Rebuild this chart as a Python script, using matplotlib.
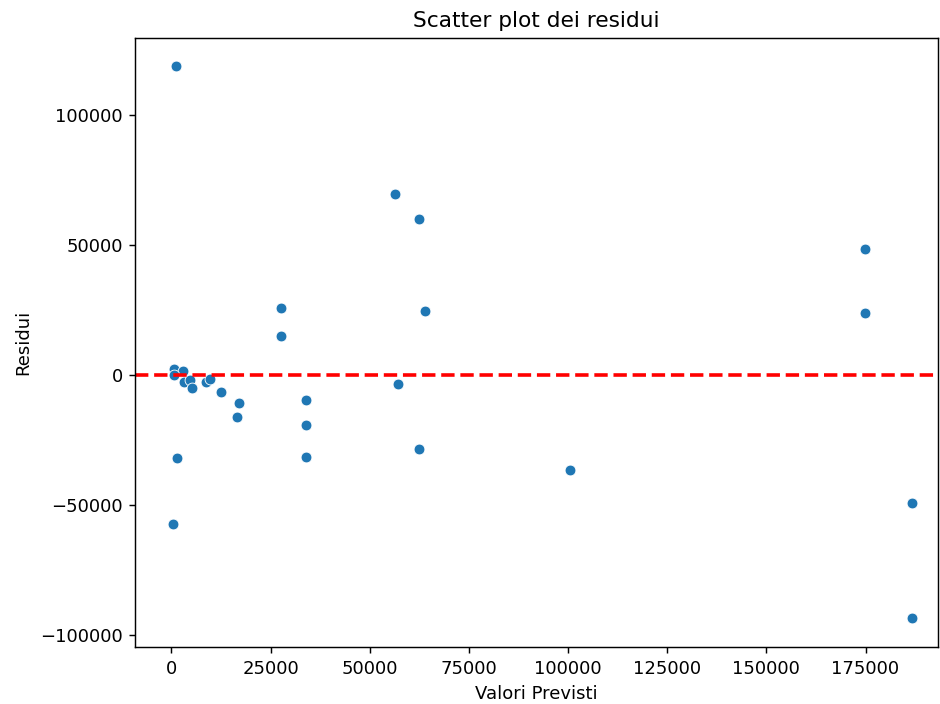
import matplotlib
matplotlib.use("Agg")
import matplotlib.pyplot as plt
import seaborn as sns
import numpy as np

# valori previsti vs residui
valori_previsti = [1260, 580, 2950, 580, 3280, 4790, 5220, 8820, 9650, 12520,
                   17060, 16560, 1510, 300, 27700, 27700, 34000, 34000, 34000,
                   56450, 62500, 64000, 57200, 62500, 100500, 174900, 174900,
                   186700, 186700]
residui = [118800, 2190, 1540, 0, -2580, -1920, -5120, -2580, -1650, -6650,
           -10650, -16150, -31900, -57300, 25800, 15000, -9600, -19200, -31500,
           69600, 60000, 24600, -3460, -28500, -36500, 48500, 23800,
           -49200, -93500]

# the reference looks like a scaled-up render, so use a higher dpi
fig, ax = plt.subplots(figsize=(940 / 130, 704 / 130), dpi=130)
fig.subplots_adjust(left=0.144, right=0.998, top=0.946, bottom=0.081)

sns.scatterplot(x=valori_previsti, y=residui, ax=ax)
ax.axhline(0, color='red', linestyle='--', linewidth=2)

ax.set_title('Scatter plot dei residui')
ax.set_xlabel('Valori Previsti')
ax.set_ylabel('Residui')
ax.set_xlim(-9070, 193300)
ax.set_ylim(-104600, 129600)

fig.savefig('out.png', dpi=130)
